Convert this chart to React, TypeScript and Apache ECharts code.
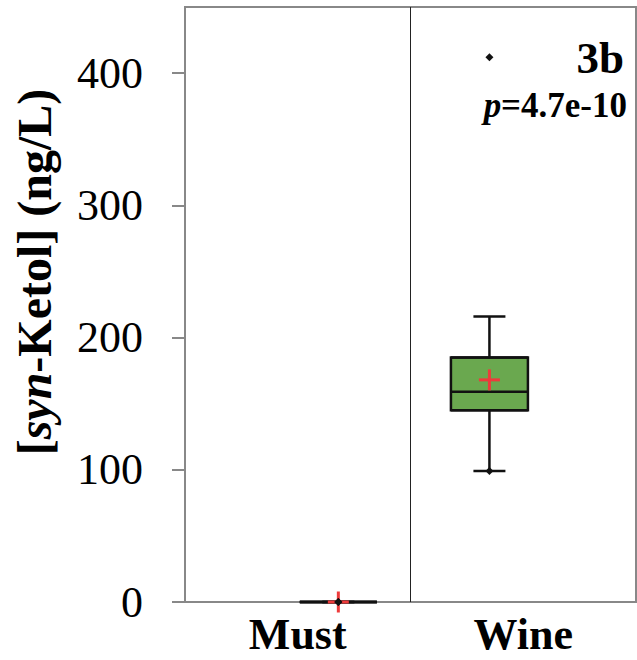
import React, { useEffect, useRef } from "react";
import * as echarts from "echarts";

const categories = ["Must", "Wine"];
const boxPositions = [0.68, 1.35];
const whiskerLow = [0, 99];
const q1Values = [0, 145];
const medians = [0, 159];
const q3Values = [0, 185];
const whiskerHigh = [0, 216];
const means = [0, 168];
const minima = [0, 99];
const maxima = [0, 412];
const yTicks = [0, 100, 200, 300, 400];
const panelDividers = [1];
const yMin = 0;
const yMax = 450;
const panelLabel = "3b";
const pValueText = "{i|p}=4.7e-10";
const yTitle = "[{i|syn}-Ketol] (ng/L)";

const FONT = "Liberation Serif";

export default function App() {
  const ref = useRef<HTMLDivElement>(null);

  useEffect(() => {
    if (!ref.current) return;
    const chart = echarts.init(ref.current, null, { renderer: "svg" });

    const data = categories.map((_, i) => [
      boxPositions[i],
      whiskerLow[i],
      q1Values[i],
      medians[i],
      q3Values[i],
      whiskerHigh[i],
      means[i],
      minima[i],
      maxima[i],
    ]);

    const renderItem = (params: any, api: any) => {
      const x = api.value(0);
      const pt = (v: number) => api.coord([x, v]);
      const cx = pt(api.value(1))[0];
      const yLow = pt(api.value(1))[1];
      const yQ1 = pt(api.value(2))[1];
      const yMed = pt(api.value(3))[1];
      const yQ3 = pt(api.value(4))[1];
      const yHigh = pt(api.value(5))[1];
      const yMean = pt(api.value(6))[1];
      const yMinP = pt(api.value(7))[1];
      const yMaxP = pt(api.value(8))[1];
      const boxHalf = 38.5;
      const capHalf = 16;
      const crossHalf = 10.5;
      const d = 4;
      const black = { stroke: "#111", lineWidth: 2.5 };
      const red = { stroke: "#ee3b3b", lineWidth: 3 };
      const hline = (y: number, half: number, style: any) => ({
        type: "line",
        shape: { x1: cx - half, y1: y, x2: cx + half, y2: y },
        style,
      });
      const diamond = (y: number) => ({
        type: "polygon",
        shape: {
          points: [
            [cx, y - d],
            [cx + d, y],
            [cx, y + d],
            [cx - d, y],
          ],
        },
        style: { fill: "#111" },
      });
      return {
        type: "group",
        children: [
          { type: "line", shape: { x1: cx, y1: yLow, x2: cx, y2: yQ1 }, style: black },
          { type: "line", shape: { x1: cx, y1: yQ3, x2: cx, y2: yHigh }, style: black },
          hline(yLow, capHalf, black),
          hline(yHigh, capHalf, black),
          {
            type: "rect",
            shape: { x: cx - boxHalf, y: yQ3, width: boxHalf * 2, height: Math.max(0, yQ1 - yQ3) },
            style: { fill: "#6aa84f", stroke: "#111", lineWidth: 2.5 },
          },
          hline(yQ1, boxHalf, black),
          hline(yQ3, boxHalf, black),
          hline(yMed, boxHalf, black),
          hline(yMean, crossHalf, red),
          { type: "line", shape: { x1: cx, y1: yMean - crossHalf, x2: cx, y2: yMean + crossHalf }, style: red },
          diamond(yMinP),
          diamond(yMaxP),
        ],
      };
    };

    chart.setOption({
      animation: false,
      textStyle: { fontFamily: FONT },
      grid: {
        left: 185,
        top: 7,
        right: 1,
        bottom: 58,
        show: true,
        borderColor: "#888",
        borderWidth: 2,
        backgroundColor: "transparent",
        outerBoundsMode: "none",
      },
      xAxis: [
        {
          type: "category",
          data: categories,
          axisLine: { show: true, lineStyle: { color: "#888", width: 2 } },
          axisTick: { show: false },
          axisLabel: {
            fontSize: 44,
            lineHeight: 40,
            fontWeight: "bold",
            color: "#000",
            margin: 12,
            fontFamily: FONT,
          },
          splitLine: { show: false },
        },
        { type: "value", min: 0, max: 2, show: false },
      ],
      yAxis: {
        type: "value",
        min: yMin,
        max: yMax,
        interval: 100,
        axisLine: { show: true, lineStyle: { color: "#888", width: 2 } },
        axisTick: {
          show: true,
          length: 13,
          lineStyle: { color: "#888", width: 2 },
          customValues: yTicks,
        },
        axisLabel: {
          fontSize: 44,
          color: "#000",
          margin: 42,
          fontFamily: FONT,
          customValues: yTicks,
        },
        splitLine: { show: false },
      },
      graphic: [
        {
          type: "text",
          x: 34,
          y: 272,
          rotation: Math.PI / 2,
          style: {
            text: yTitle,
            fontSize: 48,
            fontWeight: "bold",
            fontFamily: FONT,
            fill: "#000",
            align: "center",
            verticalAlign: "middle",
            rich: {
              i: { fontSize: 48, fontWeight: "bold", fontStyle: "italic", fontFamily: FONT, fill: "#000" },
            },
          },
        },
        {
          type: "text",
          x: 624,
          y: 57.5,
          style: {
            text: panelLabel,
            fontSize: 45,
            fontWeight: "bold",
            fontFamily: FONT,
            fill: "#000",
            align: "right",
            verticalAlign: "middle",
          },
        },
        {
          type: "text",
          x: 627,
          y: 105,
          style: {
            text: pValueText,
            fontSize: 35,
            fontWeight: "bold",
            fontFamily: FONT,
            fill: "#000",
            align: "right",
            verticalAlign: "middle",
            rich: {
              i: { fontSize: 35, fontWeight: "bold", fontStyle: "italic", fontFamily: FONT, fill: "#000" },
            },
          },
        },
      ],
      series: [
        {
          type: "custom",
          xAxisIndex: 1,
          yAxisIndex: 0,
          data,
          encode: { x: 0, y: [1, 2, 3, 4, 5, 6, 7, 8] },
          renderItem,
          clip: false,
          markLine: {
            silent: true,
            symbol: "none",
            label: { show: false },
            lineStyle: { color: "#222", width: 1, type: "solid" },
            data: panelDividers.map((v) => ({ xAxis: v })),
          },
        },
      ],
    });

    return () => chart.dispose();
  }, []);

  return (
    <div
      ref={ref}
      style={{ position: "fixed", left: 0, top: 0, width: 637, height: 660, background: "#fff" }}
    />
  );
}
